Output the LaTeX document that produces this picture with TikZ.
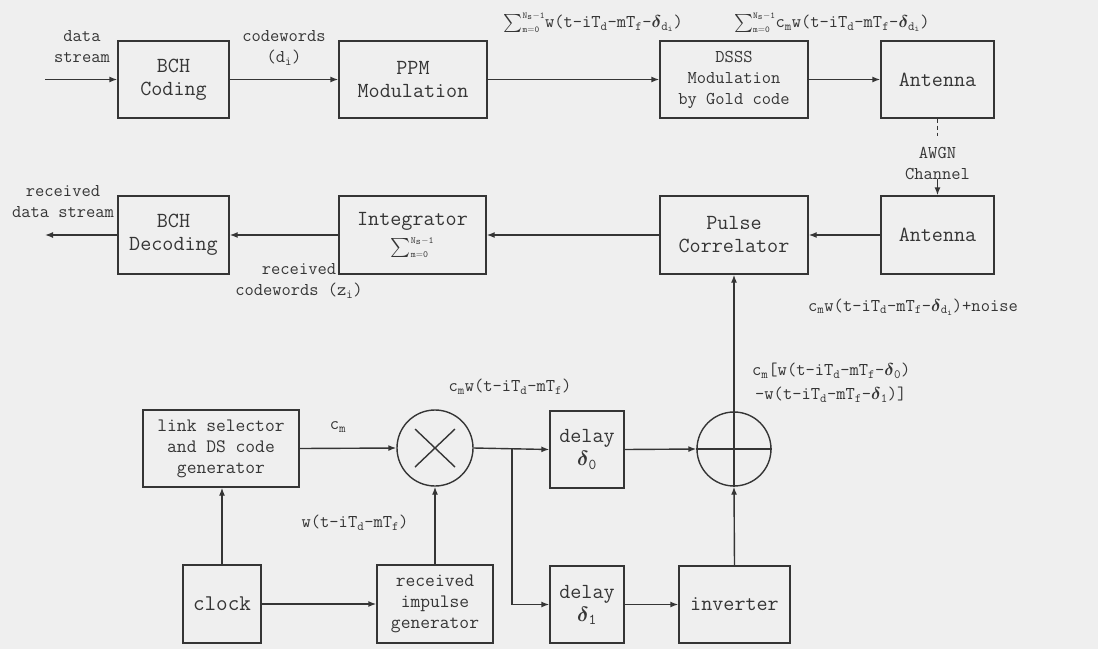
\documentclass[tikz,border=0pt]{standalone}
\usepackage{amsmath,amssymb,bm}
\usepackage{fontspec}
\usetikzlibrary{arrows.meta,calc}
\definecolor{bg}{HTML}{EFEFEF}
\definecolor{ink}{HTML}{353535}
\newcommand{\fs}[2]{\ttfamily\fontsize{#1}{#2}\selectfont}
\newcommand{\dl}{$\boldsymbol{\delta}$}
\newcommand{\sumN}{$\sum\nolimits_{\scriptscriptstyle\mathtt{m=0}}^{\scriptscriptstyle\mathtt{N_s-1}}$}
\begin{document}
\begin{tikzpicture}[x=1pt,y=-1pt,
  blk/.style={draw=ink,line width=1.4pt,text=ink,align=center,inner sep=0pt,font=\fs{21.5}{23}},
  lbl/.style={text=ink,align=center,inner sep=0pt,font=\fs{18}{21}},
  conn/.style={draw=ink,line width=1.4pt,-{Latex[length=8pt,width=6pt]}},
  wire/.style={draw=ink,line width=1.4pt}]
\fill[bg] (0,0) rectangle (1098,649);
\useasboundingbox (0,0) rectangle (1098,649);
% top row
\node[blk,minimum width=111pt,minimum height=77pt] (bchc) at (173.5,79.5) {BCH\\Coding};
\node[blk,minimum width=148pt,minimum height=77pt] (ppm) at (413,79.5) {PPM\\Modulation};
\node[blk,minimum width=148pt,minimum height=77pt,font=\fs{18}{21}] (dsss) at (734,79.5) {DSSS\\Modulation\\by Gold code};
\node[blk,minimum width=113pt,minimum height=77pt] (ant1) at (937.5,79.5) {Antenna};
% second row
\node[blk,minimum width=111pt,minimum height=78pt] (bchd) at (173.5,235) {BCH\\Decoding};
\node[blk,minimum width=147pt,minimum height=78pt] (integ) at (412.5,235) {Integrator\\[4pt]{\fs{19}{21}\sumN}};
\node[blk,minimum width=148pt,minimum height=78pt] (pcorr) at (734,235) {Pulse\\Correlator};
\node[blk,minimum width=113pt,minimum height=78pt] (ant2) at (937.5,235) {Antenna};
% bottom section
\node[blk,minimum width=156pt,minimum height=77pt,font=\fs{19}{21}] (link) at (221,448.5) {link selector\\and DS code\\generator};
\node[blk,minimum width=78pt,minimum height=78pt,font=\fs{22.5}{24}] (clock) at (222,604) {clock};
\node[blk,minimum width=116pt,minimum height=78pt,font=\fs{19}{21}] (rig) at (435,604) {received\\impulse\\generator};
\node[draw=ink,line width=1.4pt,circle,minimum size=76pt,inner sep=0pt] (mult) at (435,448) {};
\draw[wire] ($(mult.center)+(-20,-19)$) -- ($(mult.center)+(20,19)$);
\draw[wire] ($(mult.center)+(-20,19)$) -- ($(mult.center)+(20,-19)$);
\node[blk,minimum width=74pt,minimum height=77pt] (d0) at (587,449.5) {delay\\\dl\textsubscript{0}};
\node[blk,minimum width=74pt,minimum height=77pt] (d1) at (587,604.5) {delay\\\dl\textsubscript{1}};
\node[draw=ink,line width=1.4pt,circle,minimum size=74pt,inner sep=0pt] (add) at (734,449) {};
\draw[wire] (add.west) -- (add.east);
\draw[wire] (add.north) -- (add.south);
\node[blk,minimum width=111pt,minimum height=77pt] (inv) at (734.5,604.5) {inverter};
% coordinates
\coordinate (in) at (45,79.5);
\coordinate (out) at (45,235);
\coordinate (br) at (512,448);
% connectors top
\draw[conn] (in) -- (bchc.west);
\draw[conn] (bchc) -- (ppm);
\draw[conn] (ppm) -- (dsss);
\draw[conn] (dsss) -- (ant1);
\draw[wire,dash pattern=on 4pt off 3pt] (ant1.south) -- ++(0,17);
\node[lbl] (awgn) at (937.5,163) {AWGN\\Channel};
\draw[conn] (awgn.south -| ant2.north) -- (ant2.north);
% second row connectors
\draw[conn] (ant2) -- (pcorr);
\draw[conn] (pcorr) -- (integ);
\draw[conn] (integ) -- (bchd);
\draw[conn] (bchd.west) -- (out);
% bottom connectors
\draw[conn] (clock.north) -- (clock.north |- link.south);
\draw[conn] (clock) -- (rig);
\draw[conn] (rig.north) -- (mult.south);
\draw[conn] (link.east) -- (mult.west);
\draw[conn] (mult.east) -- (d0.west);
\draw[conn] (br) |- (d1.west);
\draw[conn] (d0.east) -- (add.west);
\draw[conn] (d1) -- (inv);
\draw[conn] (inv.north) -- (add.south);
\draw[conn] (add.north) -- (pcorr.south);
% labels
\node[lbl] (ldata) at (82,47) {data\\stream};
\node[lbl] (lcw) at (284,48) {codewords\\(d\textsubscript{i})};
\node[lbl,anchor=east] (ls1) at (683,23) {\sumN w(t-iT\textsubscript{d}-mT\textsubscript{f}-\dl\textsubscript{d\textsubscript{i}})};
\node[lbl,anchor=west] (ls2) at (734,23) {\sumN c\textsubscript{m}w(t-iT\textsubscript{d}-mT\textsubscript{f}-\dl\textsubscript{d\textsubscript{i}})};
\node[lbl] (lrds) at (63,202) {received\\data stream};
\node[lbl] (lrcw) at (299,281) {received\\codewords (z\textsubscript{i})};
\node[lbl,anchor=west] (lnoise) at (808,307) {c\textsubscript{m}w(t-iT\textsubscript{d}-mT\textsubscript{f}-\dl\textsubscript{d\textsubscript{i}})+noise};
\node[lbl] (lcm) at (338,427) {c\textsubscript{m}};
\node[lbl] (lcmw) at (510,387) {c\textsubscript{m}w(t-iT\textsubscript{d}-mT\textsubscript{f})};
\node[lbl] (lw) at (355,523) {w(t-iT\textsubscript{d}-mT\textsubscript{f})};
\node[lbl,align=left,anchor=west] (lsum) at (752,383) {c\textsubscript{m}[w(t-iT\textsubscript{d}-mT\textsubscript{f}-\dl\textsubscript{0})\\[3pt]\,-w(t-iT\textsubscript{d}-mT\textsubscript{f}-\dl\textsubscript{1})]};
\end{tikzpicture}
\end{document}
